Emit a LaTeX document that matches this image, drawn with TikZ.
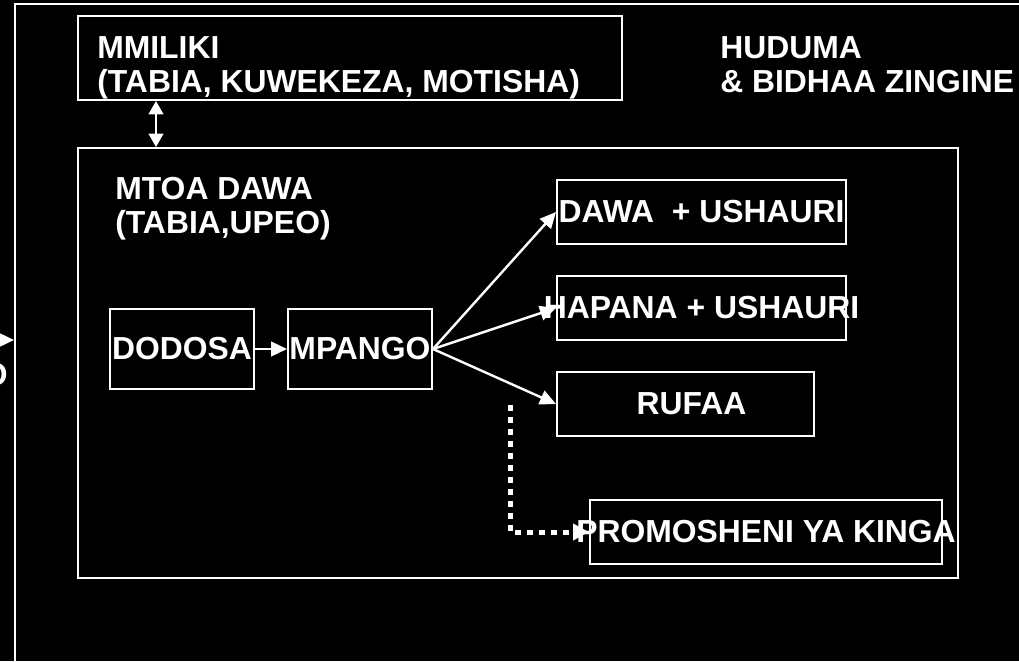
\documentclass[tikz,border=0pt]{standalone}
\usepackage{fontspec}
\setmainfont{Liberation Sans}
\usetikzlibrary{arrows.meta, positioning}

\begin{document}
\begin{tikzpicture}[
        x=0.75pt, y=-0.75pt,
        node distance=24pt,
        box/.style={rectangle, draw=white, line width=1.5pt, inner sep=0pt, text=white, font=\fontsize{23.9}{25.5}\selectfont\bfseries},
        txt/.style={text=white, font=\fontsize{23.9}{25.5}\selectfont\bfseries, align=left, inner sep=0pt},
        arrow/.style={-{Triangle[length=12pt, width=11pt]}, white, line width=1.8pt},
        dblarrow/.style={{Triangle[length=10pt, width=11pt]}-{Triangle[length=10pt, width=11pt]}, white, line width=1.5pt},
        dotarrow/.style={-{Triangle[length=12pt, width=12pt]}, white, line width=3.75pt, dash pattern=on 4.5pt off 4.5pt}
    ]
        \fill[black] (0,0) rectangle (1019,661);
        \useasboundingbox (0,0) rectangle (1019,661);

        % frames
        \node[box, anchor=north west, minimum width=825pt, minimum height=525pt] (outer) at (14,3) {};
        \node[box, minimum width=408pt, minimum height=63pt] (mmiliki) at (350,58) {};
        \node[box, minimum width=660pt, minimum height=322.5pt] (mtoa) at (518,363) {};

        % titles
        \node[txt, anchor=north west] (mmilikiText) at (97,36) {MMILIKI\\(TABIA, KUWEKEZA, MOTISHA)};
        \node[txt, anchor=north west] (huduma) at (720,36) {HUDUMA\\\& BIDHAA ZINGINE};
        \node[txt, anchor=north west] (mtoaText) at (115,177) {MTOA DAWA\\(TABIA,UPEO)};

        % steps
        \node[box, minimum width=108pt, minimum height=60pt] (dodosa) at (182,349) {DODOSA};
        \node[box, minimum width=108pt, minimum height=60pt, right=24pt of dodosa] (mpango) {MPANGO};
        \node[box, minimum width=216.75pt, minimum height=48pt] (dawa) at (701.5,212) {DAWA\ \ + USHAURI};
        \node[box, minimum width=216.75pt, minimum height=48pt] (hapana) at (701.5,308) {};
        \node[box, minimum width=192.75pt, minimum height=48pt] (rufaa) at (685.5,404) {\hspace*{9pt}RUFAA};
        \node[box, minimum width=264pt, minimum height=48pt] (promo) at (766,532) {};
        \node[txt] (hapanaText) at (hapana) {HAPANA + USHAURI};
        \node[txt] (promoText) at (promo) {PROMOSHENI YA KINGA};

        % cut-off label on the left
        \node[txt, anchor=east] (cutoff) at (8,375) {O};
        \coordinate (inlet) at (-30,340);
        \coordinate (tap) at (510,405);

        \draw[dblarrow] ([xshift=59.25pt]mmiliki.south west) -- ([xshift=59.25pt]mtoa.north west);
        \draw[arrow] (inlet) -- (inlet -| outer.west);
        \draw[arrow] (dodosa) -- (mpango);
        \draw[arrow] (mpango.east) -- (dawa.west);
        \draw[arrow] (mpango.east) -- (hapana.west);
        \draw[arrow] (mpango.east) -- (rufaa.west);
        \draw[dotarrow] (tap) |- (promo.west);
    \end{tikzpicture}
\end{document}
